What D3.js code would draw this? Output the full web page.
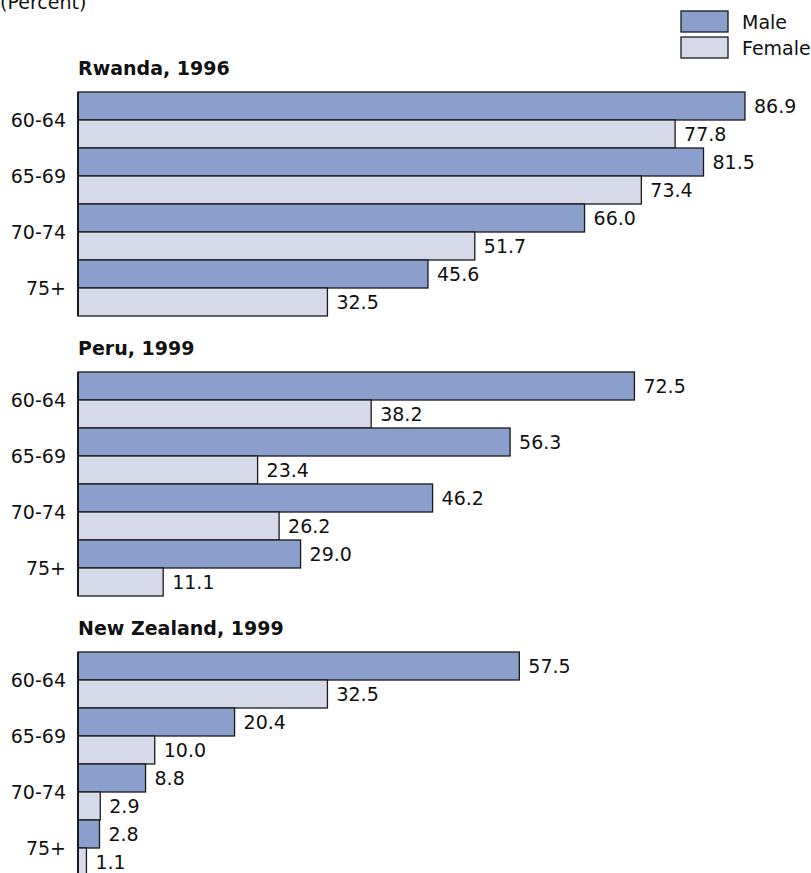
<!DOCTYPE html>
<html>
  <head>
    <meta charset="utf-8">
    <title>Labor force participation, older population</title>
    <style>
      body { margin: 0; background: #fff; }
      text { font-family: "DejaVu Sans", sans-serif; fill: #111; }
      .bar { stroke: #1a1a1a; stroke-width: 1.3; }
      .male { fill: #8a9fcc; }
      .female { fill: #d6d9ea; }
      .title { font-weight: bold; font-size: 19px; }
      .age { font-size: 19px; text-anchor: end; }
      .val { font-size: 19px; }
    </style>
  </head>
  <body>
    <script src="https://d3js.org/d3.v7.min.js"></script>
    <script>
      const width = 811;
      const height = 873;

      const ages = ["60-64", "65-69", "70-74", "75+"];
      const countries = ["Rwanda, 1996", "Peru, 1999", "New Zealand, 1999"];
      const maleValues = [
        [86.9, 81.5, 66.0, 45.6],
        [72.5, 56.3, 46.2, 29.0],
        [57.5, 20.4, 8.8, 2.8]
      ];
      const femaleValues = [
        [77.8, 73.4, 51.7, 32.5],
        [38.2, 23.4, 26.2, 11.1],
        [32.5, 10.0, 2.9, 1.1]
      ];
      const sexes = ["Male", "Female"];

      const svg = d3.select("body")
        .append("svg")
        .attr("width", width)
        .attr("height", height);

      const x = d3.scaleLinear()
        .domain([0, 100])
        .range([78, 845.5]);

      // one panel per country
      const panelTop = d3.scalePoint()
        .domain(countries)
        .range([92, 652]);

      const panelH = 224;

      countries.forEach((c, i) => {
        const top = panelTop(c);
        const g = svg.append("g");

        const y = d3.scaleBand()
          .domain(ages)
          .range([top, top + panelH]);
        const sub = d3.scaleBand()
          .domain(sexes)
          .range([0, y.bandwidth()]);

        g.append("text")
          .attr("class", "title")
          .attr("x", 78)
          .attr("y", top - 17)
          .text(c);

        const rows = ages.map((a, j) => ({
          age: a, male: maleValues[i][j], female: femaleValues[i][j]
        }));

        rows.forEach(r => {
          [["Male", r.male, "male"], ["Female", r.female, "female"]].forEach(([s, v, cls]) => {
            const yy = y(r.age) + sub(s);
            g.append("rect")
              .attr("class", "bar " + cls)
              .attr("x", x(0))
              .attr("y", yy)
              .attr("width", x(v) - x(0))
              .attr("height", sub.bandwidth());
            g.append("text")
              .attr("class", "val")
              .attr("x", x(v) + 9)
              .attr("y", yy + sub.bandwidth() / 2)
              .attr("dominant-baseline", "central")
              .text(v.toFixed(1));
          });

          g.append("text")
            .attr("class", "age")
            .attr("x", 66)
            .attr("y", y(r.age) + y.bandwidth() / 2)
            .attr("dominant-baseline", "central")
            .text(r.age);
        });

        // axis line
        g.append("line")
          .attr("x1", x(0)).attr("x2", x(0))
          .attr("y1", top).attr("y2", top + panelH)
          .attr("stroke", "#1a1a1a")
          .attr("stroke-width", 2);
      });

      // unit note, partly above the top edge as in the source
      svg.append("text")
        .attr("x", 0)
        .attr("y", 9)
        .style("font-size", "19px")
        .text("(Percent)");

      // legend
      const legend = svg.append("g");
      sexes.forEach((s, i) => {
        legend.append("rect")
          .attr("class", "bar " + s.toLowerCase())
          .attr("x", 681)
          .attr("y", 11 + i * 26)
          .attr("width", 47)
          .attr("height", 21);
        legend.append("text")
          .attr("x", 742)
          .attr("y", 21.5 + i * 26)
          .attr("dominant-baseline", "central")
          .style("font-size", "19px")
          .text(s);
      });
    </script>
  </body>
</html>
